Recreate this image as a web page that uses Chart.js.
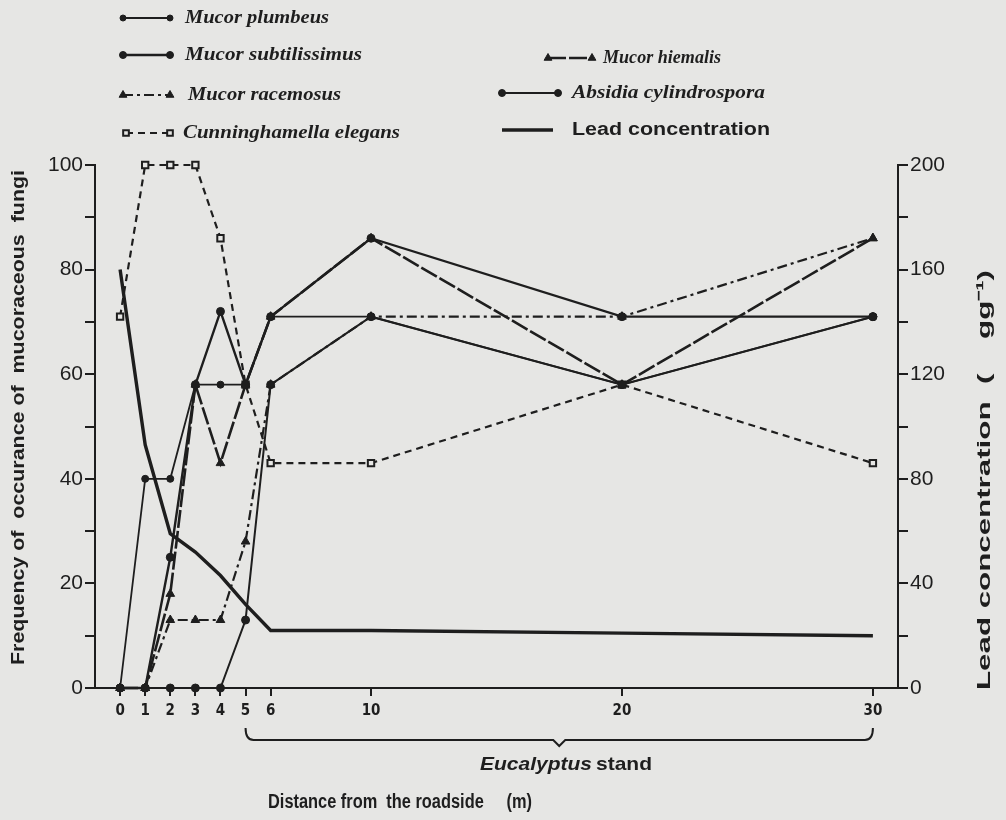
<!DOCTYPE html>
<html>
<head>
<meta charset="utf-8">
<title>Mucoraceous fungi and lead along the roadside</title>
<script src="https://cdn.jsdelivr.net/npm/chart.js@4.4.0/dist/chart.umd.min.js"></script>
<style>
  html, body { margin: 0; padding: 0; background: #e6e6e4; }
  #wrap { width: 1006px; height: 820px; }
</style>
</head>
<body>
<div id="wrap"><canvas id="fungi-chart" width="1006" height="820"></canvas></div>
<script>
// distance from the roadside (m)
const distances = [0, 1, 2, 3, 4, 5, 6, 10, 20, 30];
const xTickValues = [0, 1, 2, 3, 4, 5, 6, 10, 20, 30];

// frequency of occurrence (%)
const plumbeus       = [0, 40, 40, 58, 58, 58, 71, 71, 58, 71];
const subtilissimus  = [0, 0, 25, 58, 72, 58, 71, 86, 71, 71];
const racemosus      = [0, 0, 13, 13, 13, 28, 58, 71, 71, 86];
const cunninghamella = [71, 100, 100, 100, 86, 58, 43, 43, 58, 43];
const hiemalis       = [0, 0, 18, 58, 43, 58, 71, 86, 58, 86];
const absidia        = [0, 0, 0, 0, 0, 13, 58, 71, 58, 71];

// lead in soil
const lead = [160, 93, 59, 52, 43, 32, 22, 22, 21, 20];

const freqTicks = [0, 20, 40, 60, 80, 100];
const leadTicks = [0, 40, 80, 120, 160, 200];

// stretch of the transect inside the plantation
const standFrom = 5;
const standTo = 30;

const INK = '#1e1e1e';
const PAPER = '#e6e6e4';

function pts(values) {
  return distances.map((d, i) => ({ x: d, y: values[i] }));
}

function series(label, values, extra) {
  return Object.assign({
    label: label,
    data: pts(values),
    borderColor: INK,
    backgroundColor: INK,
    pointBackgroundColor: INK,
    pointBorderColor: INK,
    pointBorderWidth: 1,
    borderWidth: 2,
    tension: 0,
    clip: false,
    yAxisID: 'y'
  }, extra);
}

const datasets = [
  series('Mucor plumbeus', plumbeus, { pointStyle: 'circle', pointRadius: 3.5, borderWidth: 1.8 }),
  series('Mucor subtilissimus', subtilissimus, { pointStyle: 'circle', pointRadius: 4, borderWidth: 2.4 }),
  series('Mucor racemosus', racemosus, { pointStyle: 'triangle', pointRadius: 5, borderDash: [10, 4, 3, 4], borderWidth: 2.2 }),
  series('Cunninghamella elegans', cunninghamella, { pointStyle: 'rect', pointRadius: 4.5, borderDash: [7, 5], borderWidth: 2.2,
    pointBackgroundColor: PAPER, pointBorderWidth: 2 }),
  series('Mucor hiemalis', hiemalis, { pointStyle: 'triangle', pointRadius: 5, borderDash: [18, 3], borderWidth: 2.6 }),
  series('Absidia cylindrospora', absidia, { pointStyle: 'circle', pointRadius: 4, borderWidth: 2 }),
  series('Lead concentration', lead, { pointRadius: 0, borderWidth: 3.4, yAxisID: 'y1' })
];

// legend rows: dataset index, sample line ends, row centre, text start, text width
const legendRows = [
  { ds: 0, x1: 123, x2: 170, y: 18, tx: 185, tw: 144 },
  { ds: 1, x1: 123, x2: 170, y: 55, tx: 185, tw: 177 },
  { ds: 2, x1: 123, x2: 170, y: 95, tx: 188, tw: 153 },
  { ds: 3, x1: 126, x2: 170, y: 133, tx: 183, tw: 217 },
  { ds: 4, x1: 548, x2: 592, y: 58, tx: 603, tw: 118 },
  { ds: 5, x1: 502, x2: 558, y: 93, tx: 572, tw: 193 },
  { ds: 6, x1: 502, x2: 553, y: 130, tx: 572, tw: 198 }
];

function fitText(ctx, text, x, y, width, font, angle) {
  ctx.save();
  ctx.font = font;
  const w = ctx.measureText(text).width;
  ctx.translate(x, y);
  if (angle) ctx.rotate(angle);
  ctx.scale(width / w, 1);
  ctx.textAlign = 'left';
  ctx.textBaseline = 'middle';
  ctx.fillStyle = INK;
  ctx.fillText(text, 0, 0);
  ctx.restore();
}

const SPECIES_FONT = 'italic bold 19px "Liberation Serif", "DejaVu Serif", serif';
const LABEL_FONT = 'bold 18px "Liberation Sans", Arial, sans-serif';

const paperPlugin = {
  id: 'paper',
  beforeDraw(chart) {
    const ctx = chart.ctx;
    ctx.save();
    ctx.fillStyle = PAPER;
    ctx.fillRect(0, 0, chart.width, chart.height);
    ctx.restore();
  }
};

const notesPlugin = {
  id: 'notes',
  afterDraw(chart) {
    const ctx = chart.ctx;

    // legend
    legendRows.forEach(row => {
      const ds = chart.data.datasets[row.ds];
      ctx.save();
      ctx.strokeStyle = INK;
      ctx.lineWidth = ds.borderWidth;
      ctx.setLineDash(ds.borderDash || []);
      ctx.beginPath();
      ctx.moveTo(row.x1, row.y);
      ctx.lineTo(row.x2, row.y);
      ctx.stroke();
      ctx.setLineDash([]);
      if (ds.pointRadius > 0) {
        ctx.fillStyle = ds.pointBackgroundColor;
        ctx.strokeStyle = INK;
        ctx.lineWidth = ds.pointBorderWidth;
        [row.x1, row.x2].forEach(px => {
          Chart.helpers.drawPoint(ctx, {
            pointStyle: ds.pointStyle, radius: ds.pointRadius - 0.5,
            rotation: 0, borderWidth: ds.pointBorderWidth
          }, px, row.y);
        });
      }
      ctx.restore();
      const font = ds.yAxisID === 'y1' ? LABEL_FONT : SPECIES_FONT;
      fitText(ctx, ds.label, row.tx, row.y, row.tw, font);
    });

    // bracket under the plantation section
    const xs = chart.scales.x;
    const xa = xs.getPixelForValue(standFrom);
    const xb = xs.getPixelForValue(standTo);
    const xc = (xa + xb) / 2;
    ctx.save();
    ctx.strokeStyle = INK;
    ctx.lineWidth = 2;
    ctx.beginPath();
    ctx.moveTo(xa, 728);
    ctx.quadraticCurveTo(xa, 740, xa + 8, 740);
    ctx.lineTo(xc - 6, 740);
    ctx.lineTo(xc, 746);
    ctx.lineTo(xc + 6, 740);
    ctx.lineTo(xb - 8, 740);
    ctx.quadraticCurveTo(xb, 740, xb, 728);
    ctx.stroke();
    ctx.restore();

    fitText(ctx, 'Eucalyptus', 480, 765, 112, 'italic bold 19px "Liberation Sans", Arial, sans-serif');
    fitText(ctx, 'stand', 596, 765, 56, 'bold 19px "Liberation Sans", Arial, sans-serif');
    fitText(ctx, 'Distance from  the roadside     (m)', 268, 802, 264, 'bold 20px "Liberation Sans", Arial, sans-serif');

    // axis titles
    fitText(ctx, 'Frequency of  occurance of  mucoraceous  fungi', 19, 665, 495,
      'bold 19px "Liberation Sans", Arial, sans-serif', -Math.PI / 2);
    fitText(ctx, 'Lead concentration  (    gg\u207B\u00B9)', 985, 690, 420,
      'bold 19px "Liberation Sans", Arial, sans-serif', -Math.PI / 2);
  }
};

const axisGrid = { drawOnChartArea: false, drawTicks: true, color: INK, lineWidth: 2, tickLength: 10 };
const axisBorder = { display: true, color: INK, width: 2 };
const tickFont = { family: '"Liberation Sans", Arial, sans-serif', size: 21 };

new Chart(document.getElementById('fungi-chart'), {
  type: 'line',
  data: { datasets: datasets },
  options: {
    responsive: false,
    animation: false,
    devicePixelRatio: 1,
    layout: { padding: { top: 165, bottom: 92, left: 0, right: 0 } },
    plugins: { legend: { display: false }, tooltip: { enabled: false } },
    scales: {
      x: {
        type: 'linear', min: -1, max: 31,
        afterBuildTicks: s => { s.ticks = xTickValues.map(v => ({ value: v })); },
        afterFit: s => { s.height = 40; },
        ticks: {
          color: INK, autoSkip: false, maxRotation: 0, padding: 6,
          font: { family: '"Liberation Sans Narrow", "DejaVu Sans Condensed", "Liberation Sans", sans-serif', size: 15, weight: 'bold' }
        },
        grid: Object.assign({}, axisGrid, { tickLength: 8 }),
        border: axisBorder
      },
      y: {
        position: 'left', min: 0, max: 100,
        afterFit: s => { s.width = 95; },
        ticks: {
          stepSize: 10, color: INK, padding: 2, font: tickFont,
          callback: v => freqTicks.includes(v) ? String(v) : ''
        },
        grid: axisGrid,
        border: axisBorder
      },
      y1: {
        position: 'right', min: 0, max: 200,
        afterFit: s => { s.width = 108; },
        ticks: {
          stepSize: 20, color: INK, padding: 2, font: tickFont,
          callback: v => leadTicks.includes(v) ? String(v) : ''
        },
        grid: axisGrid,
        border: axisBorder
      }
    }
  },
  plugins: [paperPlugin, notesPlugin]
});
</script>
</body>
</html>
